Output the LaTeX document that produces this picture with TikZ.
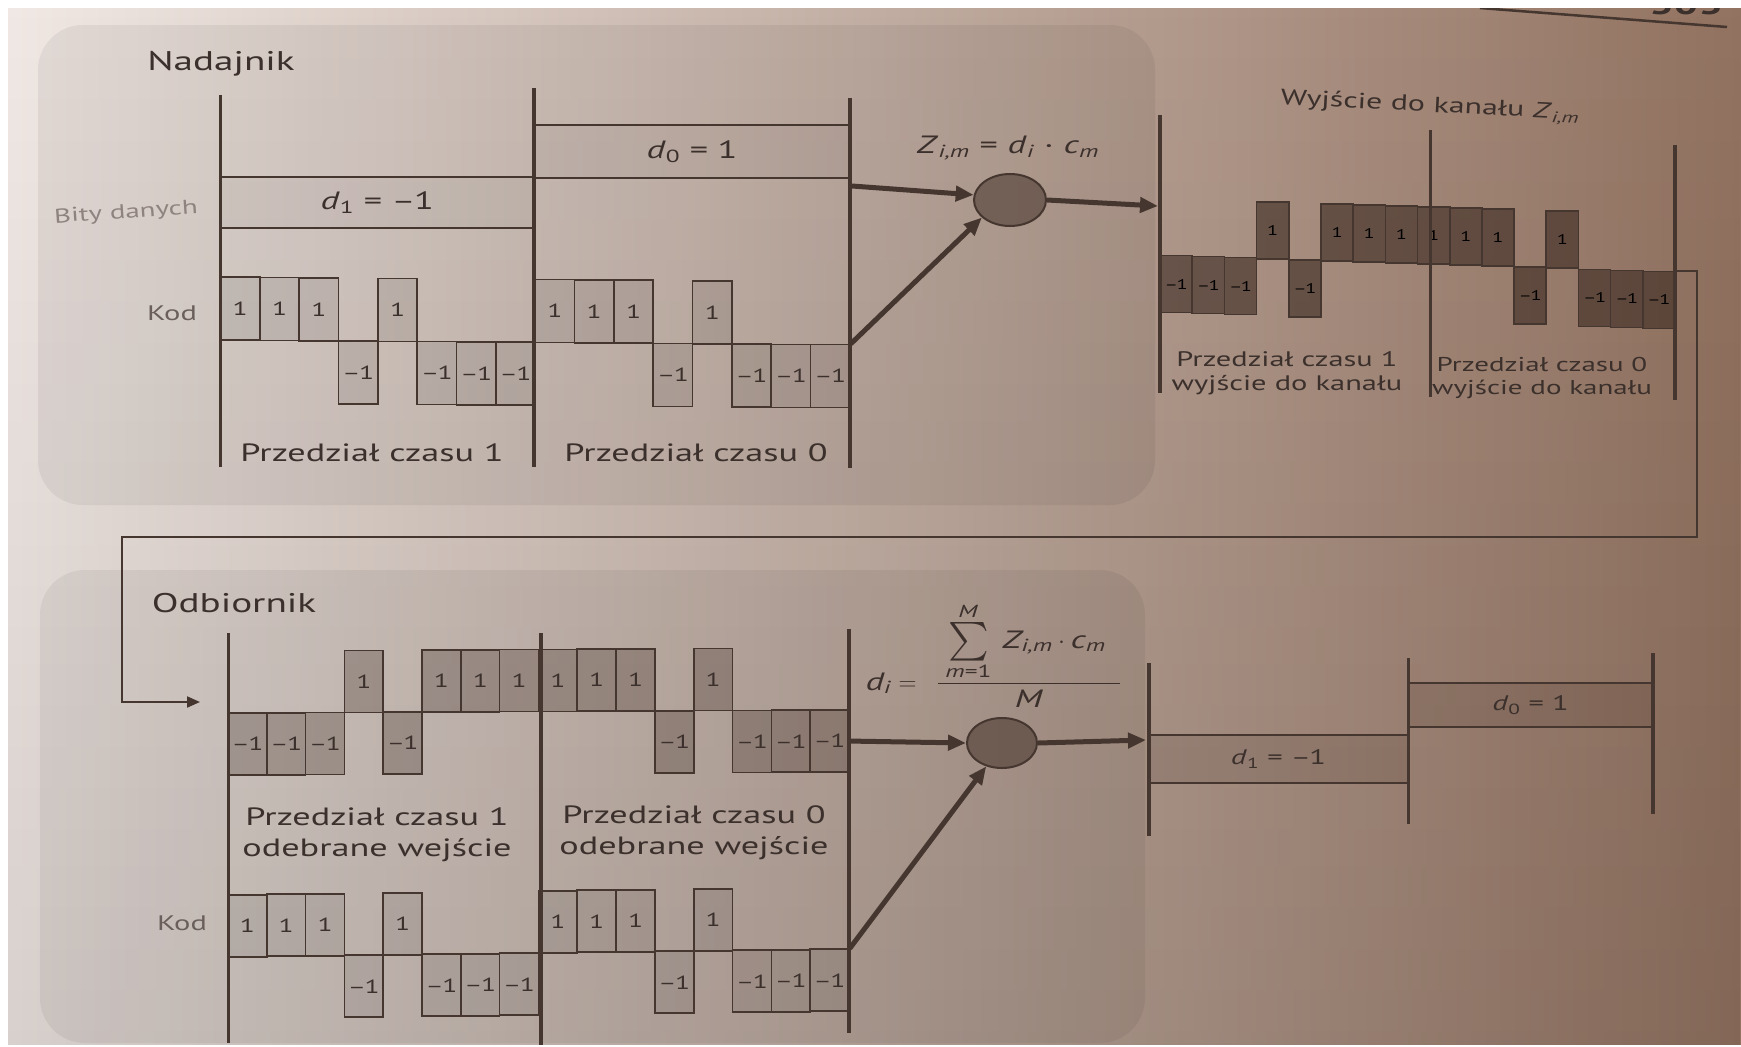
\documentclass[tikz,border=0pt]{standalone}
\usepackage{amsmath}
\usepackage{graphicx}
\usepackage{fontspec}
\setmainfont{PT Sans}[FakeStretch=1.45]
\usetikzlibrary{arrows.meta,shapes.geometric,fadings}

\definecolor{ink}{HTML}{3B302C}
\definecolor{rule}{HTML}{45372F}
\definecolor{pageL}{HTML}{F1E9E5}
\definecolor{pageM}{HTML}{D5C3B7}
\definecolor{pageR}{HTML}{927260}
\definecolor{soft}{HTML}{8E837E}
\definecolor{greyish}{HTML}{6A5F5A}
\definecolor{deep}{HTML}{3A2820}

\tikzfading[name=lowshade, top color=transparent!100, bottom color=transparent!0]

\newcommand{\iv}[1]{\textit{#1}}
\newcommand{\isub}[1]{\textsubscript{\iv{#1}}}
\newcommand{\mdash}{\textendash\kern-1.5pt}
\newcommand{\bigsum}{\mathop{\vcenter{\hbox{\scalebox{1.55}{$\textstyle\sum$}}}}\limits}

% one row of chips: #1 name prefix, #2 left x, #3 chip width, #4 baseline y at the left end,
% #5 baseline drop per chip, #6 chip height, #7 style, #8 chip values (+1 / -1)
\newcommand{\chiprow}[8]{%
  \foreach \v [count=\k from 0] in {#8} {%
    \pgfmathsetmacro{\cx}{#2+(\k+0.5)*#3}%
    \pgfmathsetmacro{\cy}{#4+(\k+0.5)*#5-(\v)*#6/2}%
    \node[#7, minimum width=#3pt, minimum height=#6pt] (#1\k) at (\cx,\cy)
      {\ifnum\v>0 1\else\mdash1\fi};
  }%
}

\begin{document}
\begin{tikzpicture}[x=1pt, y=-1pt,
  every node/.style={text=ink},
  vline/.style={draw=rule, line width=4.5pt},
  vthin/.style={draw=rule, line width=3pt},
  chipbase/.style={draw=rule, line width=1.6pt, inner sep=0pt, text opacity=1,
    font=\fontsize{19}{22}\selectfont},
  codechip/.style={chipbase, fill=black, fill opacity=0.08},
  rxchip/.style={chipbase, fill=deep, fill opacity=0.28},
  zchip/.style={chipbase, fill=deep, fill opacity=0.6, text=black,
    font=\fontsize{14}{16}\selectfont},
  bitbox/.style={draw=rule, line width=1.8pt, inner sep=0pt, fill=black,
    fill opacity=0.03, text opacity=1, font=\fontsize{25}{30}\selectfont},
  outbox/.style={bitbox, fill=deep, fill opacity=0.14, font=\fontsize{21}{24}\selectfont},
  mult/.style={ellipse, draw=rule, line width=2pt, fill=deep, fill opacity=0.5,
    inner sep=0pt},
  conn/.style={draw=rule, line width=5pt, -{Triangle[length=18pt,width=15pt]}},
  chan/.style={draw=rule, line width=2pt, -{Triangle[length=13pt,width=11pt]}},
  panel/.style={fill=black, fill opacity=0.055, rounded corners=45pt},
  head/.style={font=\fontsize{27}{32}\selectfont},
  lab/.style={font=\fontsize{25}{31}\selectfont, align=center},
  small/.style={font=\fontsize{21}{24}\selectfont, align=center},
  side/.style={font=\fontsize{21}{24}\selectfont, text=greyish}]

\useasboundingbox (0,0) rectangle (1741,1047);

% paper
\shade[left color=pageL, middle color=pageM, right color=pageR] (0,0) rectangle (1741,1047);
\fill[black, opacity=0.1, path fading=lowshade] (0,0) rectangle (1741,1047);

% the two shaded panels
\fill[panel] (38,25) rectangle (1155,505);
\fill[panel] (40,570) rectangle (1145,1043);

% ================= transmitter =================
\node[head] (tx) at (221,64) {Nadajnik};

\node[bitbox, minimum width=313.5pt, minimum height=51pt] (bitA) at (377.25,202.5)
  {\iv{d}\textsubscript{1} = \mdash1};
\node[bitbox, minimum width=316pt, minimum height=53pt] (bitB) at (692,151.5)
  {\iv{d}\textsubscript{0} = 1};

\chiprow{tc}{220.5}{39.34}{340}{0.3}{63}{codechip}{1,1,1,-1,1,-1,-1,-1,1,1,1,-1,1,-1,-1,-1}

\draw[vthin] (220.5,95) -- (220.5,467);
\draw[vline] (534,88) -- (534,467);
\draw[vline] (850,98) -- (850,468);

\node[font=\fontsize{20}{24}\selectfont, text=soft, rotate=4] (bity) at (126,213) {Bity danych};
\node[side] (kodT) at (172,313) {Kod};
\node[lab] (slot1T) at (372,453) {Przedział czasu 1};
\node[lab] (slot0T) at (696,453) {Przedział czasu 0};

% spreading: product of data bit and code
\node[lab] (fT) at (1008,148) {\iv{Z}\isub{i,m} = \iv{d}\isub{i} · \iv{c}\isub{m}};
\node[mult, minimum width=72pt, minimum height=52pt] (mulT) at (1010,200) {};
\coordinate (dOut) at (852,186);
\coordinate (zIn) at (1158,206);
\draw[conn] (dOut) -- (mulT.172);
\draw[conn] (tc15.north east) -- (mulT.212);
\draw[conn] (mulT.east) -- (zIn);

% channel output
\node[font=\fontsize{22}{26}\selectfont, rotate=-3] (zTitle) at (1430,107)
  {Wyjście do kanału \iv{Z}\isub{i,m}};
\chiprow{zc}{1160}{32.19}{255}{1.06}{57}{zchip}{-1,-1,-1,1,-1,1,1,1,1,1,1,-1,1,-1,-1,-1}
\draw[vline] (1160,115) -- (1160,393);
\draw[vthin] (1430,130) -- (1430,397);
\draw[vline] (1675,145) -- (1675,400);
\node[small] (slot1Z) at (1287,373) {Przedział czasu 1\\wyjście do kanału};
\node[small, font=\fontsize{20}{23}\selectfont] (slot0Z) at (1542,378)
  {Przedział czasu 0\\wyjście do kanału};

% channel path down to the receiver
\coordinate (chanR) at (1697,537);
\coordinate (chanL) at (122,537);
\coordinate (rxIn) at (200,702);
\draw[chan] (zc15.north east) -| (chanR) -- (chanL) |- (rxIn);

% ================= receiver =================
\node[head] (rx) at (234,603) {Odbiornik};

\chiprow{rc}{228}{38.81}{713}{-0.19}{62}{rxchip}{-1,-1,-1,1,-1,1,1,1,1,1,1,-1,1,-1,-1,-1}
\chiprow{bc}{228}{38.81}{957}{-0.5}{62}{codechip}{1,1,1,-1,1,-1,-1,-1,1,1,1,-1,1,-1,-1,-1}

\draw[vthin] (228,633) -- (228,1043);
\draw[vline] (541,633) -- (541,1046);
\draw[vline] (849,629) -- (849,1033);

\node[lab] (slot1R) at (377,835) {Przedział czasu 1\\odebrane wejście};
\node[lab] (slot0R) at (694,833) {Przedział czasu 0\\odebrane wejście};
\node[side] (kodB) at (182,923) {Kod};

% despreading: correlate with the code and average
\node[lab, anchor=west] (fB) at (862,655)
  {$\iv{d}\isub{i} =\;\; \dfrac{\;\bigsum_{\text{\iv{m}=1}}^{\text{\iv{M}}}\;
   \iv{Z}\isub{i,m}\cdot\iv{c}\isub{m}\;\;}{\text{\iv{M}}}$};
\node[mult, minimum width=70pt, minimum height=50pt] (mulB) at (1002,743) {};
\coordinate (bOut) at (1146,740);
\draw[conn] (rc15.east) -- (mulB.west);
\draw[conn] (bc15.north east) -- (mulB.236);
\draw[conn] (mulB.east) -- (bOut);

% recovered data bits
\node[outbox, minimum width=259pt, minimum height=48pt] (outA) at (1278.5,759)
  {\iv{d}\textsubscript{1} = \mdash1};
\node[outbox, minimum width=245pt, minimum height=44pt] (outB) at (1530.5,705)
  {\iv{d}\textsubscript{0} = 1};
\draw[vline] (1149,663) -- (1149,836);
\draw[vthin] (1408,658) -- (1408,824);
\draw[vline] (1653,653) -- (1653,814);

% page header rule and folio
\draw[rule, line width=2.5pt] (1480,8) -- (1727,27);
\node[anchor=base, font=\fontsize{30}{30}\selectfont\bfseries] (folio) at (1686,14) {303};

% paper margins
\fill[white] (0,0) rectangle (1741,8);
\fill[white] (0,0) rectangle (8,1047);
\fill[white] (0,1045) rectangle (1741,1047);
\end{tikzpicture}
\end{document}
